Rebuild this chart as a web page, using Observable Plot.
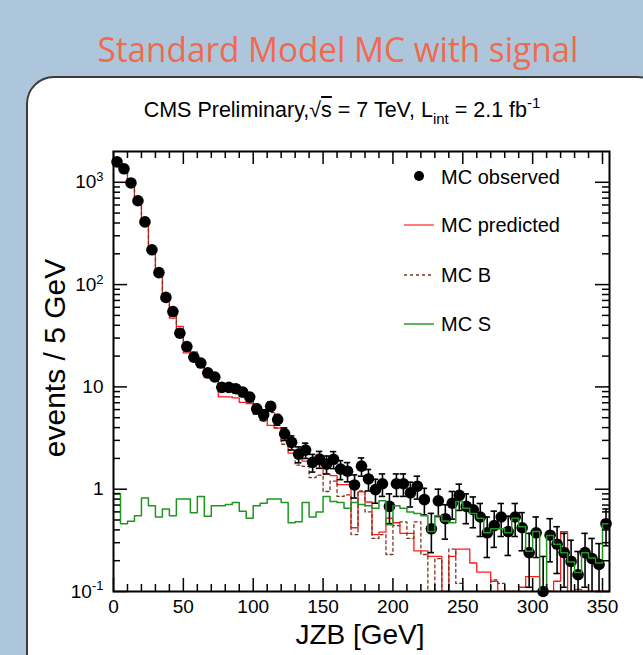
<!DOCTYPE html>
<html><head><meta charset="utf-8">
<script src="https://cdn.jsdelivr.net/npm/d3@7"></script>
<script src="https://cdn.jsdelivr.net/npm/@observablehq/plot@0.6"></script>
<style>
html,body{margin:0;padding:0;}
body{width:643px;height:655px;overflow:hidden;background:#aec6db;position:relative;font-family:"Liberation Sans",Arial,Helvetica,sans-serif;color:#000;}
#title{position:absolute;left:338px;top:29px;white-space:nowrap;font-family:"Open Sans";font-size:34px;line-height:40px;color:#f06a4e;transform-origin:0 0;}
#panel{position:absolute;left:26px;top:76px;width:640px;height:640px;background:#fff;border:2.5px solid #3c3c3c;border-radius:28px;box-sizing:border-box;}
#subtitle{position:absolute;left:0;width:684px;top:92px;text-align:center;font-size:21.5px;line-height:22px;white-space:nowrap;}
#subtitle sub{font-size:15px;vertical-align:-7px;}
#subtitle sup{font-size:15px;vertical-align:9px;}
.ov{text-decoration:overline;}
#ylab{position:absolute;left:55px;top:358px;transform:translate(-50%,-50%) rotate(-90deg);font-size:30px;line-height:30px;white-space:nowrap;}
#xlab{position:absolute;left:0;width:720px;top:621px;text-align:center;font-size:28px;line-height:28px;white-space:nowrap;}
#chart{position:absolute;left:0;top:0;}
#legend{position:absolute;left:0;top:0;}
</style></head>
<body>
<div id="panel"></div>
<div id="title">Standard Model MC with signal</div>
<div id="subtitle">CMS Preliminary,√<span class="ov">s</span> = 7 TeV, L<sub>int</sub> = 2.1 fb<sup>-1</sup></div>
<div id="chart"></div>
<div id="ylab">events / 5 GeV</div>
<div id="xlab">JZB [GeV]</div>
<svg id="legend" width="643" height="655" font-family="Liberation Sans, Arial, sans-serif" font-size="20">
  <circle cx="419" cy="176" r="5" fill="#000"/>
  <text x="441" y="184">MC observed</text>
  <line x1="404" x2="434" y1="225" y2="225" stroke="#ff5050" stroke-width="1.5"/>
  <text x="441" y="232">MC predicted</text>
  <line x1="404" x2="434" y1="275" y2="275" stroke="#7a3520" stroke-width="1.3" stroke-dasharray="3,3"/>
  <text x="441" y="282">MC B</text>
  <line x1="404" x2="434" y1="324" y2="324" stroke="#2a9a2a" stroke-width="1.5"/>
  <text x="441" y="331">MC S</text>
</svg>
<script>
// bin lower edges (GeV), 5 GeV bins
const binLow = [0,5,10,15,20,25,30,35,40,45,50,55,60,65,70,75,80,85,90,95,100,105,110,115,120,125,130,135,140,145,150,155,160,165,170,175,180,185,190,195,200,205,210,215,220,225,230,235,240,245,250,255,260,265,270,275,280,285,290,295,300,305,310,315,320,325,330,335,340,345,350];
const binWidth = 5;
// MC observed (points) and their errors
const observed = [1585,1355,985,660,410,219,131,75,54.5,33.5,
  24.8,19.5,17.1,13.7,12.5,9.9,9.9,9.6,8.9,7.95,
  6.1,5.35,6.45,4.8,3.48,2.87,2.2,2.41,1.83,1.97,
  1.76,1.96,1.57,1.5,1.1,1.68,1.26,0.99,1.13,0.68,
  1.13,1.13,0.92,1.07,0.79,0.41,0.77,0.515,0.73,0.87,
  0.68,0.63,0.535,0.375,0.44,0.535,0.385,0.535,0.42,0.24,
  0.375,0.1,0.355,0.29,0.24,0.197,0.146,0.24,0.21,0.184,
  0.46];
const observedErr = [10.5,9.7,8.3,6.8,5.4,3.9,3.0,2.3,1.95,1.5,
  1.3,1.17,1.1,0.98,0.94,0.83,0.83,0.82,0.79,0.75,
  0.65,0.61,0.67,0.58,0.49,0.45,0.39,0.41,0.36,0.37,
  0.35,0.37,0.33,0.32,0.28,0.34,0.3,0.26,0.28,0.22,
  0.28,0.28,0.25,0.27,0.23,0.17,0.23,0.19,0.22,0.25,
  0.22,0.21,0.19,0.16,0.17,0.19,0.16,0.19,0.17,0.13,
  0.16,0.12,0.16,0.14,0.13,0.12,0.1,0.13,0.12,0.11,
  0.18];
// MC predicted (red histogram)
const predicted = [1585,1335,985,680,403,221,127,77,47,39,
  21.5,22,17.2,12.3,12.5,8.0,8.0,7.8,7.05,6.85,
  5.55,4.8,4.2,3.95,3.0,2.25,2.07,1.88,1.74,1.74,
  1.41,1.36,1.11,1.11,0.42,0.94,0.75,0.36,0.38,0.52,
  0.47,0.37,0.37,0.25,0.25,0.22,0.22,0,0.22,0.26,
  0.26,0.19,0.155,0.155,0.126,0,0,0,0.11,0.14,
  0.14,0,0,0.126,0.385,0,0.105,0,0,0,
  0];
// MC B (dashed brown histogram)
const mcB = [1580,1350,980,655,405,217,129,74,54,32.7,
  24,18.9,16.2,13.1,11.8,9.2,9.2,8.85,8.3,7.4,
  5.45,4.6,5.6,4.0,2.75,2.4,1.72,1.67,1.3,1.37,
  0.95,1.2,0.85,0.88,0.36,0.96,0.6,0.33,0.36,0.23,
  0.44,0.48,0.33,0.48,0.23,0,0.21,0,0.26,0.12,
  0,0,0,0,0.13,0.12,0,0,0,0,
  0,0,0,0,0,0,0,0,0,0,
  0];
// MC S (green histogram)
const mcS = [0.91,0.46,0.485,0.55,0.82,0.69,0.535,0.64,0.55,0.8,
  0.8,0.59,0.85,0.545,0.69,0.69,0.71,0.74,0.61,0.52,
  0.69,0.73,0.8,0.8,0.74,0.47,0.48,0.74,0.535,0.6,
  0.85,0.76,0.74,0.65,0.74,0.71,0.69,0.65,0.77,0.45,
  0.69,0.65,0.6,0.58,0.55,0.385,0.55,0.49,0.47,0.76,
  0.65,0.58,0.52,0.375,0.41,0.41,0.375,0.52,0.43,0.247,
  0.385,0,0.353,0.29,0.239,0.194,0.153,0.239,0.213,0.19,
  0.46];
const xTicks = [0,50,100,150,200,250,300,350];
const yTicks = [0.1,1,10,100,1000];
const yTickLabels = ["10^-1","1","10","10^2","10^3"];
const yMin = 0.1, yMax = 2000, xMax = 355;

const W = 643, H = 655, mL = 113, mR = 34, mT = 151, mB = 64;
const FH = H - mT - mB, FW = W - mL - mR;

const steps = vals => vals.flatMap((v, i) => {
  const y = Math.max(v, yMin);
  return [{x: binLow[i], y}, {x: binLow[i] + binWidth, y}];
});
const pts = binLow.map((lo, i) => ({
  x: lo + binWidth / 2, y: observed[i],
  lo: Math.max(observed[i] - observedErr[i], 0.01), hi: observed[i] + observedErr[i]
}));
const xMinor = d3.range(0, xMax + 1, 10).filter(d => d % 50 !== 0);
const yMinor = yTicks.flatMap(d => [2,3,4,5,6,7,8,9].map(k => k * d)).filter(d => d < yMax);
const capW = 2.3;

const plot = Plot.plot({
  width: W, height: H,
  marginLeft: mL, marginRight: mR, marginTop: mT, marginBottom: mB,
  style: {background: "transparent", fontFamily: "Liberation Sans, Arial, sans-serif", fontSize: "18px", color: "#000", overflow: "visible"},
  x: {domain: [0, xMax]},
  y: {type: "log", domain: [yMin, yMax]},
  marks: [
    Plot.line(steps(predicted), {x: "x", y: "y", stroke: "#ff1a1a", strokeWidth: 1.3, clip: true}),
    Plot.line(steps(mcB), {x: "x", y: "y", stroke: "#7a3520", strokeWidth: 1.3, strokeDasharray: "3,3", clip: true}),
    Plot.ruleX(pts, {x: "x", y1: "lo", y2: "hi", stroke: "#000", strokeWidth: 1.6, clip: true}),
    Plot.ruleY(pts, {y: "hi", x1: d => d.x - capW, x2: d => d.x + capW, stroke: "#000", strokeWidth: 1.6, clip: true}),
    Plot.ruleY(pts, {y: "lo", x1: d => d.x - capW, x2: d => d.x + capW, stroke: "#000", strokeWidth: 1.6, clip: true}),
    Plot.dot(pts, {x: "x", y: "y", r: 5.8, fill: "#000", stroke: "none"}),
    Plot.line(steps(mcS), {x: "x", y: "y", stroke: "#1f961f", strokeWidth: 1.5, clip: true}),
    // inward ROOT-style ticks on all sides
    Plot.ruleX(xTicks, {x: d => d, insetTop: FH - 13, stroke: "#000", strokeWidth: 1.5}),
    Plot.ruleX(xTicks, {x: d => d, insetBottom: FH - 13, stroke: "#000", strokeWidth: 1.5}),
    Plot.ruleX(xMinor, {x: d => d, insetTop: FH - 7, stroke: "#000", strokeWidth: 1.5}),
    Plot.ruleX(xMinor, {x: d => d, insetBottom: FH - 7, stroke: "#000", strokeWidth: 1.5}),
    Plot.ruleY(yTicks, {y: d => d, insetRight: FW - 14, stroke: "#000", strokeWidth: 1.5}),
    Plot.ruleY(yTicks, {y: d => d, insetLeft: FW - 14, stroke: "#000", strokeWidth: 1.5}),
    Plot.ruleY(yMinor, {y: d => d, insetRight: FW - 7, stroke: "#000", strokeWidth: 1.5}),
    Plot.ruleY(yMinor, {y: d => d, insetLeft: FW - 7, stroke: "#000", strokeWidth: 1.5}),
    Plot.frame({stroke: "#000", strokeWidth: 2}),
    Plot.axisX({ticks: xTicks, tickSize: 0, tickPadding: 8, label: null, fontSize: 19}),
    Plot.axisY({ticks: yTicks, tickFormat: d => yTickLabels[yTicks.indexOf(d)], tickSize: 0, tickPadding: 10, label: null, fontSize: 19})
  ]
});
document.getElementById("chart").appendChild(plot);

// superscripts in y tick labels
d3.select(plot).selectAll('g[aria-label="y-axis tick label"] text').each(function() {
  const t = this.textContent;
  if (t.includes("^")) {
    const [b, e] = t.split("^");
    const s = d3.select(this);
    s.text(null);
    s.append("tspan").text(b);
    s.append("tspan").attr("dy", "-0.55em").attr("font-size", "13px").text(e);
  }
});

// fit title width
const title = document.getElementById("title");
const tw = title.getBoundingClientRect().width;
const target = 481;
title.style.transform = `translateX(${-target/2}px) scaleX(${target / tw})`;
</script>
</body></html>
